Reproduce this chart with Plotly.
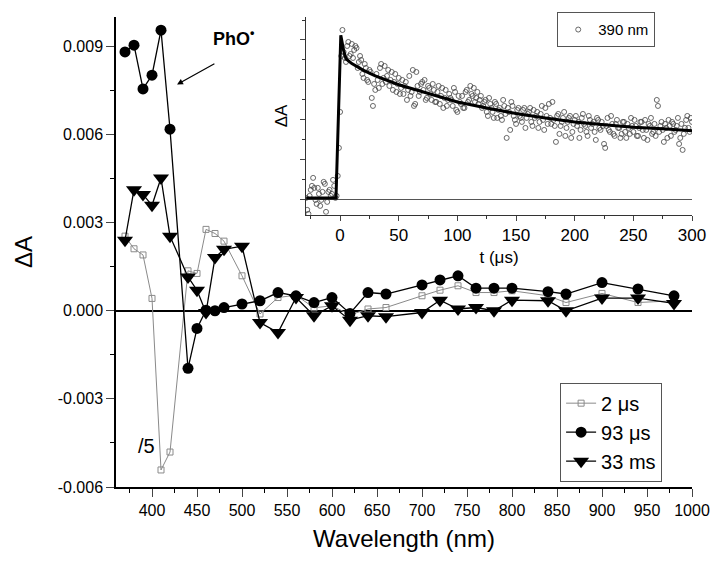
import plotly.graph_objects as go

# main spectra
wavelength = [370, 380, 390, 400, 410, 420, 440, 450, 460, 470, 480, 500, 520, 540, 560,
              580, 600, 620, 640, 660, 700, 720, 740, 760, 780, 800, 840, 860, 900, 940, 980]
dA_2us = [0.00254, 0.00211, 0.0019, 0.00042, -0.00542, -0.00481, 0.00136, 0.00127, 0.00277, 0.00263,
          0.00237, 0.00119, -0.00011, 0.00045, 0.00053, 0.0001, 0.00017, -0.00014, 0.00006, 0.00011,
          0.00051, 0.0007, 0.00085, 0.00062, 0.00062, 0.00068, 0.00051, 0.00028, 0.00059, 0.00028, 0.00034]
dA_93us = [0.00881, 0.00904, 0.00755, 0.00802, 0.00955, 0.00618, -0.00196, -0.0006, 0.00002, 0.0,
           0.00011, 0.00023, 0.00034, 0.00062, 0.00051, 0.00028, 0.00045, -0.00009, 0.00062, 0.00057,
           0.00088, 0.00105, 0.00119, 0.00077, 0.00077, 0.00077, 0.00065, 0.00057, 0.00096, 0.00074, 0.00051]
dA_33ms = [0.0024, 0.00412, 0.00396, 0.00359, 0.00452, 0.00254, 0.00115, 0.0007, -0.00006, 0.00181,
           0.00209, 0.0022, -0.0004, -0.00074, 0.00045, -0.00017, 0.00017, -0.00032, -0.00017, -0.0002,
           -0.00006, 0.00036, 0.00006, 0.00011, 0.0, 0.00036, 0.00034, 0.0, 0.00043, 0.00043, 0.00025]

y_ticks = [-0.006, -0.003, 0.0, 0.003, 0.006, 0.009]
y_labels = ['-0.006', '-0.003', '0.000', '0.003', '0.006', '0.009']

# inset kinetic trace at 390 nm (arbitrary units), even and odd time points
inset_t = [-28, -26, -24, -22, -20, -18, -16, -14, -12, -10, -8, -6, -4, -2, 0, 2,
           4, 6, 8, 10, 12, 14, 16, 18, 20, 22, 24, 26, 28, 30, 32, 34, 36, 38, 40,
           42, 44, 46, 48, 50, 52, 54, 56, 58, 60, 62, 64, 66, 68, 70, 72, 74, 76, 78, 80,
           82, 84, 86, 88, 90, 92, 94, 96, 98, 100, 102, 104, 106, 108, 110, 112, 114, 116, 118, 120,
           122, 124, 126, 128, 130, 132, 134, 136, 138, 140, 142, 144, 146, 148, 150, 152, 154, 156, 158, 160,
           162, 164, 166, 168, 170, 172, 174, 176, 178, 180, 182, 184, 186, 188, 190, 192, 194, 196, 198, 200,
           202, 204, 206, 208, 210, 212, 214, 216, 218, 220, 222, 224, 226, 228, 230, 232, 234, 236, 238, 240,
           242, 244, 246, 248, 250, 252, 254, 256, 258, 260, 262, 264, 266, 268, 270, 272, 274, 276, 278, 280,
           282, 284, 286, 288, 290, 292, 294, 296, 298, 300]
inset_dA = [-0.25, 0.1, 0.35, 0.3, -0.1, 0.15, 0.0, 0.45, -0.3, 0.2, 0.1, 0.5, 0.05, 0.6, 2.2, 4.25,
            3.55, 3.85, 3.6, 3.9, 3.75, 3.8, 3.45, 3.5, 3.05, 3.3, 2.95, 3.2, 2.35, 2.75, 3.0, 3.3, 2.9, 3.35, 3.1,
            2.85, 3.2, 2.95, 2.7, 3.05, 2.8, 2.65, 2.95, 2.75, 2.6, 3.25, 2.4, 2.85, 2.7, 2.95, 3.0, 2.55, 2.8, 2.5, 2.75,
            2.45, 2.85, 2.6, 2.3, 2.75, 2.5, 2.55, 2.35, 2.7, 2.2, 2.45, 2.6, 2.3, 2.75, 2.5, 2.65, 2.8, 2.55, 2.4, 2.6,
            2.35, 2.5, 2.1, 2.4, 2.2, 2.45, 2.05, 2.3, 2.0, 2.35, 1.55, 2.2, 2.45, 2.1, 1.9, 2.3, 2.05, 2.25, 1.8, 2.15,
            2.3, 1.85, 2.05, 2.2, 1.95, 2.35, 1.75, 2.1, 2.4, 1.9, 2.0, 1.45, 2.15, 1.85, 2.05, 1.6, 1.95, 2.1, 1.7, 2.0,
            1.85, 1.55, 2.05, 1.9, 1.7, 2.1, 1.8, 1.95, 1.5, 2.0, 1.75, 1.85, 1.3, 2.05, 1.7, 1.9, 1.6, 2.0, 1.8, 1.65,
            1.95, 1.55, 1.8, 2.05, 1.7, 1.85, 1.6, 1.95, 1.75, 2.0, 1.5, 1.85, 1.65, 1.9, 2.5, 1.7, 1.95, 1.45, 1.8, 2.0,
            1.6, 1.9, 1.75, 2.05, 1.55, 1.25, 1.8, 2.1, 1.7, 1.95]
inset_t2 = [-29, -27, -25, -23, -21, -19, -17, -15, -13, -11, -9, -7, -5, -3, -1, 1,
            3, 5, 7, 9, 11, 13, 15, 17, 19, 21, 23, 25, 27, 29, 31, 33, 35, 37, 39, 41,
            43, 45, 47, 49, 51, 53, 55, 57, 59, 61, 63, 65, 67, 69, 71, 73, 75, 77, 79, 81,
            83, 85, 87, 89, 91, 93, 95, 97, 99, 101, 103, 105, 107, 109, 111, 113, 115, 117, 119, 121,
            123, 125, 127, 129, 131, 133, 135, 137, 139, 141, 143, 145, 147, 149, 151, 153, 155, 157, 159, 161,
            163, 165, 167, 169, 171, 173, 175, 177, 179, 181, 183, 185, 187, 189, 191, 193, 195, 197, 199, 201,
            203, 205, 207, 209, 211, 213, 215, 217, 219, 221, 223, 225, 227, 229, 231, 233, 235, 237, 239, 241,
            243, 245, 247, 249, 251, 253, 255, 257, 259, 261, 263, 265, 267, 269, 271, 273, 275, 277, 279, 281,
            283, 285, 287, 289, 291, 293, 295, 297, 299]
inset_dA2 = [0.05, -0.35, 0.25, 0.55, 0.0, 0.3, -0.15, 0.2, 0.4, -0.05, 0.25, 0.15, 0.35, 0.1, 1.3, 3.6,
             3.7, 3.45, 3.95, 3.65, 3.55, 3.85, 3.3, 3.6, 3.15, 3.4, 3.0, 3.25, 2.55, 2.9, 3.15, 2.8, 3.4, 3.05, 2.95, 3.25,
             3.0, 2.75, 3.15, 2.9, 2.65, 3.0, 2.85, 2.5, 3.1, 2.7, 2.35, 3.2, 2.6, 2.9, 2.75, 2.5, 2.85, 2.65, 2.9, 2.45,
             2.7, 2.4, 2.8, 2.55, 2.35, 2.65, 2.5, 2.8, 2.25, 2.6, 2.4, 2.3, 2.7, 2.45, 2.85, 2.6, 2.45, 2.7, 2.5, 2.3,
             2.45, 2.2, 2.55, 2.3, 2.05, 2.4, 2.25, 2.1, 2.5, 2.15, 2.3, 1.75, 2.35, 2.0, 2.25, 2.1, 1.95, 2.3, 2.05, 2.2,
             1.95, 2.25, 2.1, 1.8, 2.15, 2.0, 2.3, 1.9, 2.05, 2.45, 1.85, 2.1, 1.65, 1.95, 2.2, 1.8, 2.05, 1.55, 1.9, 2.1,
             1.95, 1.75, 2.15, 1.85, 1.6, 2.0, 1.9, 1.7, 2.05, 1.8, 1.95, 1.4, 1.85, 1.75, 2.1, 1.65, 1.9, 1.8, 1.55, 1.95,
             1.7, 1.9, 1.65, 1.85, 2.0, 1.6, 1.8, 1.95, 1.55, 1.75, 1.9, 2.05, 1.7, 1.6, 2.35, 1.85, 1.75, 1.9, 1.55, 1.85,
             1.95, 1.7, 1.85, 1.4, 1.9, 1.65, 2.0, 1.8, 2.05]
fit_t = [-29, -3.5, 0.6, 3, 5, 10, 20, 30, 50, 75, 100, 125, 150, 175, 200, 225, 250, 275, 300]
fit_dA = [0.05, 0.05, 4.12, 3.74, 3.53, 3.41, 3.24, 3.1, 2.88, 2.66, 2.45, 2.3, 2.16, 2.05, 1.95, 1.88, 1.82, 1.78, 1.73]

FONT = 'Arial, Liberation Sans, sans-serif'

fig = go.Figure()
fig.add_trace(go.Scatter(x=wavelength, y=dA_2us, name='2 \u03bcs', mode='lines+markers',
                         line=dict(color='#8a8a8a', width=1),
                         marker=dict(symbol='square-open', size=6, color='#8a8a8a', line=dict(width=1))))
fig.add_trace(go.Scatter(x=wavelength, y=dA_93us, name='93 \u03bcs', mode='lines+markers',
                         line=dict(color='black', width=1.3),
                         marker=dict(symbol='circle', size=11, color='black')))
fig.add_trace(go.Scatter(x=wavelength, y=dA_33ms, name='33 ms', mode='lines+markers',
                         line=dict(color='black', width=1.3),
                         marker=dict(symbol='triangle-down', size=14, color='black')))

fig.add_trace(go.Scatter(x=inset_t + inset_t2, y=inset_dA + inset_dA2, name='390 nm', mode='markers',
                         xaxis='x2', yaxis='y2',
                         marker=dict(symbol='circle-open', size=5, color='#444444', line=dict(width=0.8)),
                         legend='legend2'))
fig.add_trace(go.Scatter(x=fit_t, y=fit_dA, mode='lines', xaxis='x2', yaxis='y2', showlegend=False,
                         line=dict(color='black', width=3)))

fig.update_layout(
    width=713, height=562,
    margin=dict(l=116, r=21, t=14, b=75),
    paper_bgcolor='white', plot_bgcolor='white',
    font=dict(family=FONT, color='black', size=15),
    xaxis=dict(range=[360, 1000], dtick=50, tick0=0, ticks='outside', ticklen=8, tickwidth=1.2,
               showline=True, linecolor='black', linewidth=1.5, showgrid=False, zeroline=False,
               automargin=False,
               minor=dict(dtick=25, ticks='outside', ticklen=4, tickcolor='black', showgrid=False),
               tickfont=dict(size=16),
               title=dict(text='Wavelength (nm)', font=dict(size=24), standoff=12)),
    yaxis=dict(range=[-0.006, 0.010], tickvals=y_ticks, ticktext=y_labels, ticks='outside', ticklen=8,
               tickwidth=1.2, showline=True, linecolor='black', linewidth=1.5, showgrid=False,
               zeroline=True, zerolinecolor='black', zerolinewidth=1.5, automargin=False,
               minor=dict(dtick=0.0015, tick0=0, ticks='outside', ticklen=4, tickcolor='black', showgrid=False),
               tickfont=dict(size=16),
               title=dict(text='\u0394A', font=dict(size=24), standoff=18)),
    xaxis2=dict(domain=[0.33, 1.0], anchor='y2', range=[-29, 300], dtick=50, tick0=0, ticks='outside',
                ticklen=5, showline=True, linecolor='#333333', linewidth=1, showgrid=False, zeroline=False,
                automargin=False,
                minor=dict(dtick=25, ticks='outside', ticklen=3, tickcolor='#333333', showgrid=False),
                tickfont=dict(size=17),
                title=dict(text='t (\u03bcs)', font=dict(size=17), standoff=6)),
    yaxis2=dict(domain=[0.579, 1.0], anchor='x2', range=[-0.375, 4.575], dtick=1, tick0=0, ticks='outside',
                ticklen=5, showticklabels=False, showline=True, linecolor='#333333', linewidth=1,
                showgrid=False, zeroline=True, zerolinecolor='#555555', zerolinewidth=1, automargin=False,
                minor=dict(dtick=0.5, ticks='outside', ticklen=3, tickcolor='#333333', showgrid=False),
                title=dict(text='\u0394A', font=dict(size=17), standoff=8)),
    legend=dict(x=0.771, y=0.222, xanchor='left', yanchor='top', bordercolor='#555555', borderwidth=1,
                font=dict(size=20), tracegroupgap=0, bgcolor='white'),
    legend2=dict(x=0.766, y=1.01, xanchor='left', yanchor='top', bordercolor='#555555', borderwidth=1,
                 font=dict(size=15), bgcolor='white'),
)

fig.add_annotation(x=490, y=0.0093, text='<b>PhO<sup>\u2022</sup></b>', showarrow=False,
                   font=dict(size=18), xref='x', yref='y')
fig.add_annotation(x=427.8, y=0.0077, ax=471, ay=0.00844, axref='x', ayref='y', xref='x', yref='y',
                   text='', showarrow=True, arrowhead=2, arrowsize=1, arrowwidth=1.2, arrowcolor='black')
fig.add_annotation(x=394, y=-0.0046, text='/5', showarrow=False, font=dict(size=20), xref='x', yref='y')

# drop the default page margin so the figure sits at the window's top-left corner
fig.write_html('out.html', config={'displayModeBar': False},
               post_script="document.body.style.margin='0';document.body.style.overflow='hidden';")
